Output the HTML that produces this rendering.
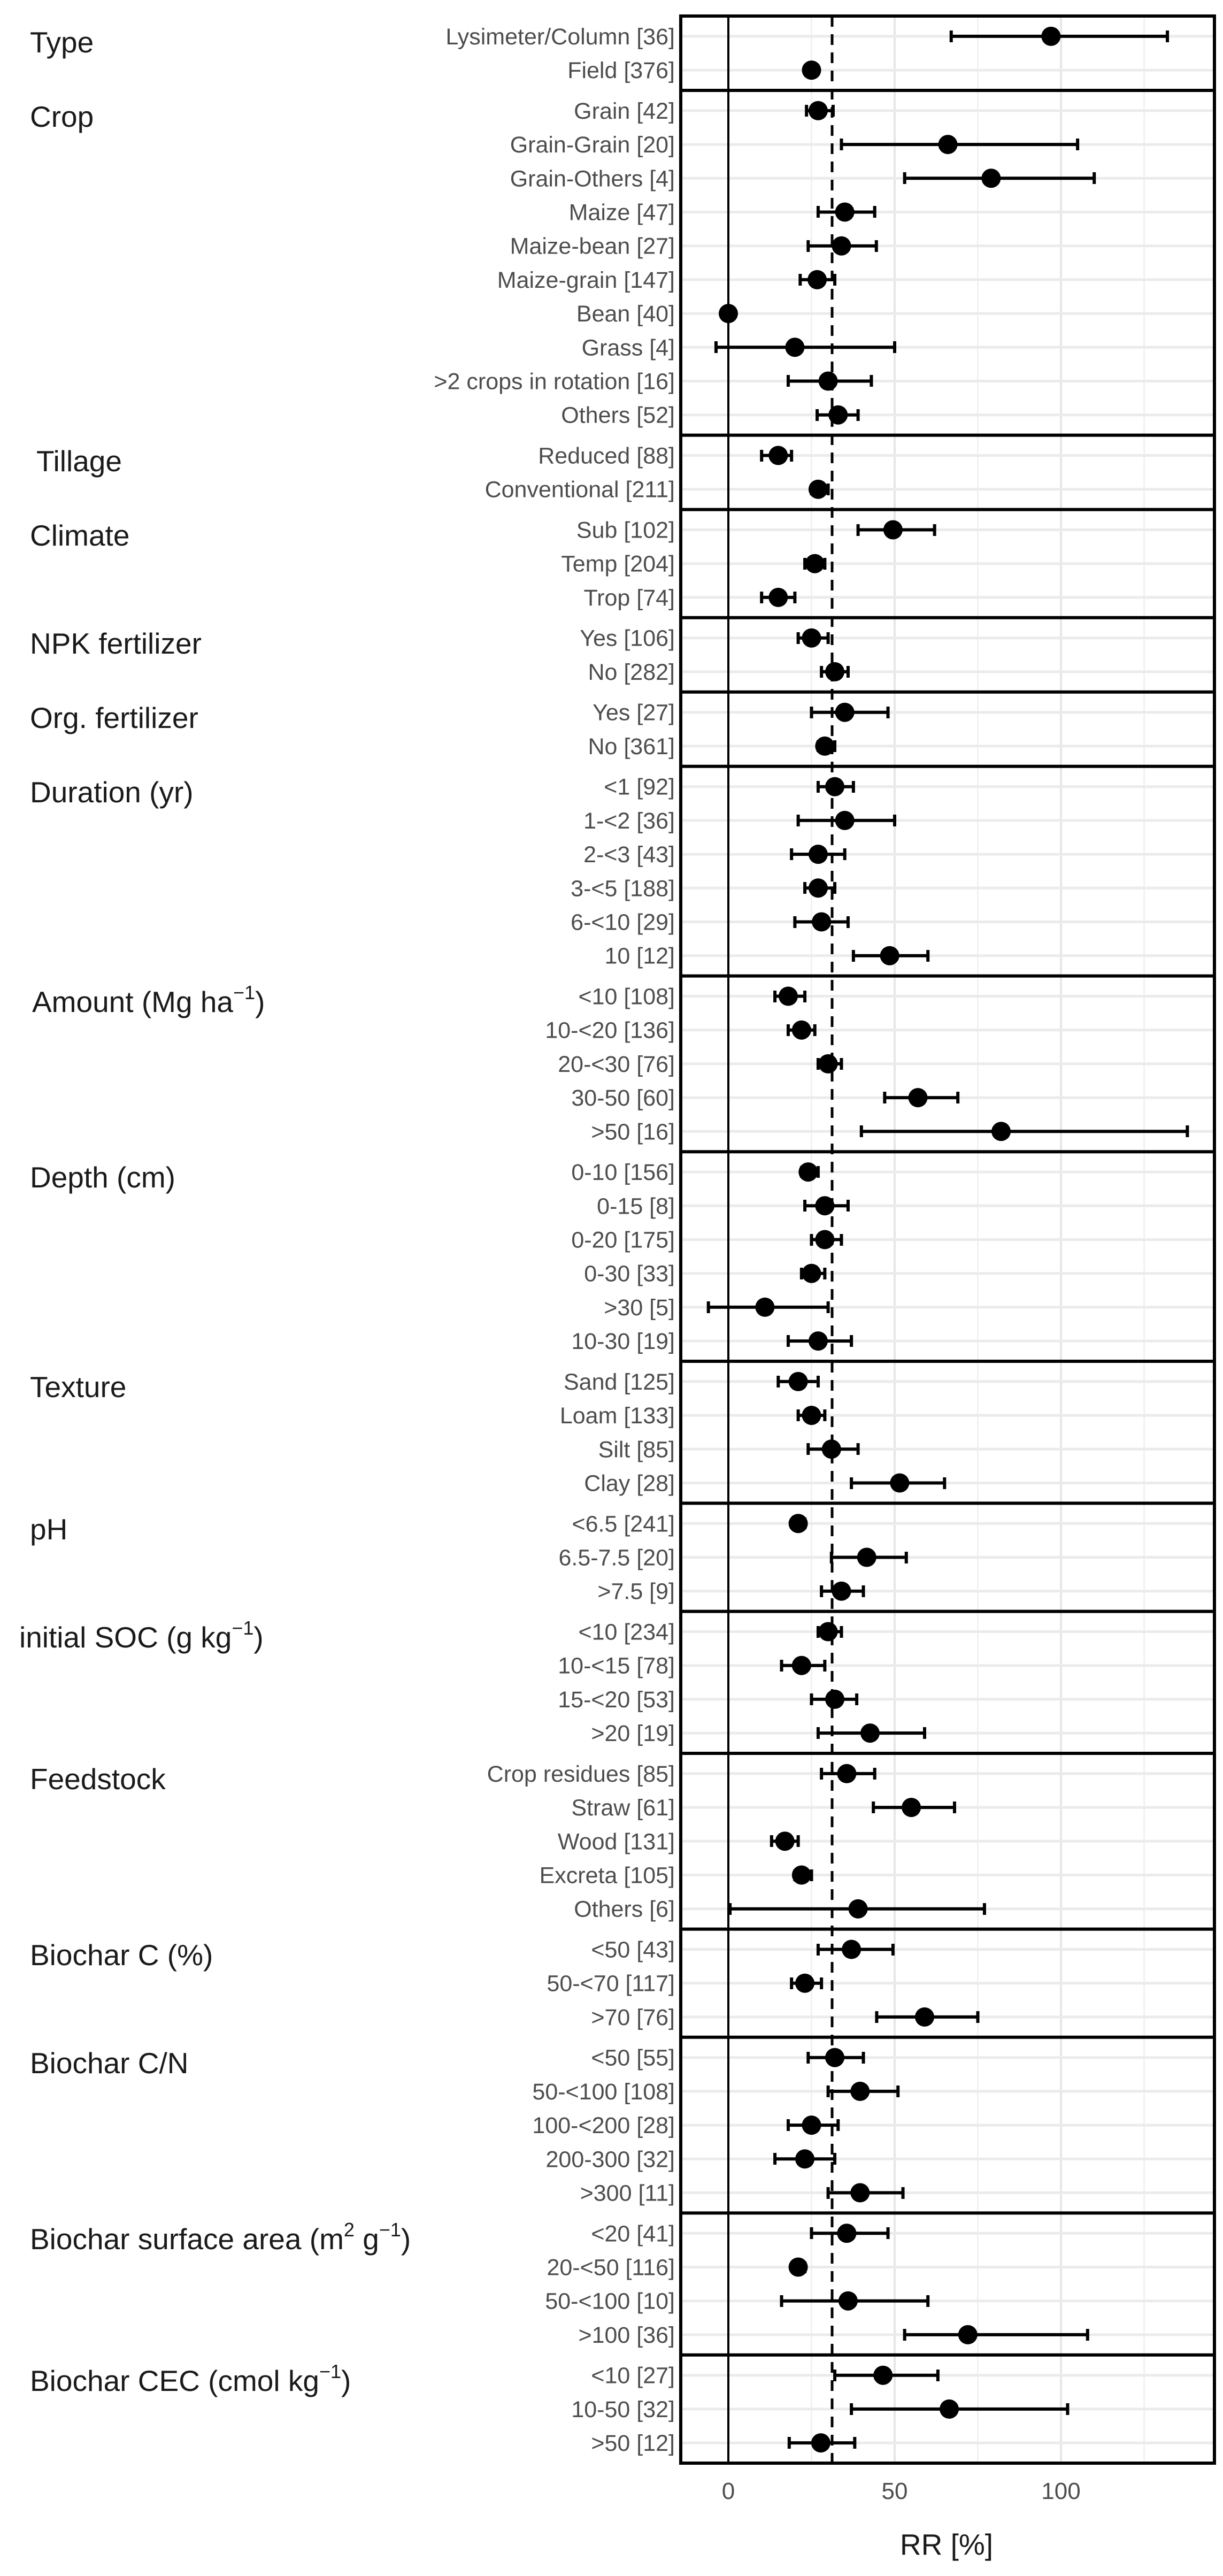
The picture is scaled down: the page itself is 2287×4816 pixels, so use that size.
<!DOCTYPE html>
<html><head><meta charset="utf-8"><style>
html,body{margin:0;padding:0;background:#fff}
svg{display:block}
.rl{font-family:"Liberation Sans",sans-serif;font-size:43px;fill:#4d4d4d;text-anchor:end}
.fl{font-family:"Liberation Sans",sans-serif;font-size:55px;fill:#1a1a1a}
.d path{fill:none;stroke:#000;stroke-width:6;vector-effect:non-scaling-stroke}
.d ellipse{fill:#000}
</style></head><body>
<svg width="2287" height="4816" viewBox="0 0 2287 4816" xmlns="http://www.w3.org/2000/svg">
<rect width="2287" height="4816" fill="#fff"/>
<!-- vertical grid -->
<g stroke="#ebebeb" stroke-width="2">
<line x1="1517.5" y1="30" x2="1517.5" y2="4605"/><line x1="1828.5" y1="30" x2="1828.5" y2="4605"/><line x1="2139.5" y1="30" x2="2139.5" y2="4605"/>
</g>
<g stroke="#e6e6e6" stroke-width="4">
<line x1="1673" y1="30" x2="1673" y2="4605"/><line x1="1984" y1="30" x2="1984" y2="4605"/>
</g>
<!-- horizontal grid -->
<g stroke="#ebebeb" stroke-width="5">
<line x1="1273" x2="2271" y1="67.9" y2="67.9"/><line x1="1273" x2="2271" y1="131.1" y2="131.1"/>
<line x1="1273" x2="2271" y1="206.9" y2="206.9"/><line x1="1273" x2="2271" y1="270.1" y2="270.1"/><line x1="1273" x2="2271" y1="333.3" y2="333.3"/><line x1="1273" x2="2271" y1="396.5" y2="396.5"/><line x1="1273" x2="2271" y1="459.7" y2="459.7"/><line x1="1273" x2="2271" y1="522.9" y2="522.9"/><line x1="1273" x2="2271" y1="586.1" y2="586.1"/><line x1="1273" x2="2271" y1="649.3" y2="649.3"/><line x1="1273" x2="2271" y1="712.5" y2="712.5"/><line x1="1273" x2="2271" y1="775.7" y2="775.7"/>
<line x1="1273" x2="2271" y1="851.5" y2="851.5"/><line x1="1273" x2="2271" y1="914.7" y2="914.7"/>
<line x1="1273" x2="2271" y1="990.5" y2="990.5"/><line x1="1273" x2="2271" y1="1053.7" y2="1053.7"/><line x1="1273" x2="2271" y1="1116.9" y2="1116.9"/>
<line x1="1273" x2="2271" y1="1192.7" y2="1192.7"/><line x1="1273" x2="2271" y1="1255.9" y2="1255.9"/>
<line x1="1273" x2="2271" y1="1331.7" y2="1331.7"/><line x1="1273" x2="2271" y1="1394.9" y2="1394.9"/>
<line x1="1273" x2="2271" y1="1470.7" y2="1470.7"/><line x1="1273" x2="2271" y1="1533.9" y2="1533.9"/><line x1="1273" x2="2271" y1="1597.1" y2="1597.1"/><line x1="1273" x2="2271" y1="1660.3" y2="1660.3"/><line x1="1273" x2="2271" y1="1723.5" y2="1723.5"/><line x1="1273" x2="2271" y1="1786.7" y2="1786.7"/>
<line x1="1273" x2="2271" y1="1862.5" y2="1862.5"/><line x1="1273" x2="2271" y1="1925.7" y2="1925.7"/><line x1="1273" x2="2271" y1="1988.9" y2="1988.9"/><line x1="1273" x2="2271" y1="2052.1" y2="2052.1"/><line x1="1273" x2="2271" y1="2115.3" y2="2115.3"/>
<line x1="1273" x2="2271" y1="2191.1" y2="2191.1"/><line x1="1273" x2="2271" y1="2254.3" y2="2254.3"/><line x1="1273" x2="2271" y1="2317.5" y2="2317.5"/><line x1="1273" x2="2271" y1="2380.7" y2="2380.7"/><line x1="1273" x2="2271" y1="2443.9" y2="2443.9"/><line x1="1273" x2="2271" y1="2507.1" y2="2507.1"/>
<line x1="1273" x2="2271" y1="2582.9" y2="2582.9"/><line x1="1273" x2="2271" y1="2646.1" y2="2646.1"/><line x1="1273" x2="2271" y1="2709.3" y2="2709.3"/><line x1="1273" x2="2271" y1="2772.5" y2="2772.5"/>
<line x1="1273" x2="2271" y1="2848.3" y2="2848.3"/><line x1="1273" x2="2271" y1="2911.5" y2="2911.5"/><line x1="1273" x2="2271" y1="2974.7" y2="2974.7"/>
<line x1="1273" x2="2271" y1="3050.5" y2="3050.5"/><line x1="1273" x2="2271" y1="3113.7" y2="3113.7"/><line x1="1273" x2="2271" y1="3176.9" y2="3176.9"/><line x1="1273" x2="2271" y1="3240.1" y2="3240.1"/>
<line x1="1273" x2="2271" y1="3315.9" y2="3315.9"/><line x1="1273" x2="2271" y1="3379.1" y2="3379.1"/><line x1="1273" x2="2271" y1="3442.3" y2="3442.3"/><line x1="1273" x2="2271" y1="3505.5" y2="3505.5"/><line x1="1273" x2="2271" y1="3568.7" y2="3568.7"/>
<line x1="1273" x2="2271" y1="3644.5" y2="3644.5"/><line x1="1273" x2="2271" y1="3707.7" y2="3707.7"/><line x1="1273" x2="2271" y1="3770.9" y2="3770.9"/>
<line x1="1273" x2="2271" y1="3846.7" y2="3846.7"/><line x1="1273" x2="2271" y1="3909.9" y2="3909.9"/><line x1="1273" x2="2271" y1="3973.1" y2="3973.1"/><line x1="1273" x2="2271" y1="4036.3" y2="4036.3"/><line x1="1273" x2="2271" y1="4099.5" y2="4099.5"/>
<line x1="1273" x2="2271" y1="4175.3" y2="4175.3"/><line x1="1273" x2="2271" y1="4238.5" y2="4238.5"/><line x1="1273" x2="2271" y1="4301.7" y2="4301.7"/><line x1="1273" x2="2271" y1="4364.9" y2="4364.9"/>
<line x1="1273" x2="2271" y1="4440.7" y2="4440.7"/><line x1="1273" x2="2271" y1="4503.9" y2="4503.9"/><line x1="1273" x2="2271" y1="4567.1" y2="4567.1"/>
</g>
<!-- reference lines -->
<line x1="1362" y1="30" x2="1362" y2="4605" stroke="#000" stroke-width="4"/>
<line x1="1556" y1="30" x2="1556" y2="4605" stroke="#000" stroke-width="5" stroke-dasharray="20,14"/>
<!-- data -->
<g class="d" transform="translate(1362,0) scale(6.22,1)">
<path d="M67 67.9H132M67 57V79M132 57V79"/><ellipse cx="97" cy="67.9" rx="2.894" ry="18"/>
<path d="M23 131.1H27M23 121V141M27 121V141"/><ellipse cx="25" cy="131.1" rx="2.894" ry="18"/>
<path d="M23.5 206.9H31.5M23.5 196V218M31.5 196V218"/><ellipse cx="27" cy="206.9" rx="2.894" ry="18"/>
<path d="M34 270.1H105M34 259V281M105 259V281"/><ellipse cx="66" cy="270.1" rx="2.894" ry="18"/>
<path d="M53 333.3H110M53 322V344M110 322V344"/><ellipse cx="79" cy="333.3" rx="2.894" ry="18"/>
<path d="M27 396.5H44M27 385V407M44 385V407"/><ellipse cx="35" cy="396.5" rx="2.894" ry="18"/>
<path d="M24 459.7H44.5M24 449V471M44.5 449V471"/><ellipse cx="34" cy="459.7" rx="2.894" ry="18"/>
<path d="M21.6 522.9H32M21.6 512V534M32 512V534"/><ellipse cx="26.7" cy="522.9" rx="2.894" ry="18"/>
<ellipse cx="0" cy="586.1" rx="2.894" ry="18"/>
<path d="M-3.7 649.3H50M-3.7 638V660M50 638V660"/><ellipse cx="20" cy="649.3" rx="2.894" ry="18"/>
<path d="M18 712.5H43M18 701V723M43 701V723"/><ellipse cx="30" cy="712.5" rx="2.894" ry="18"/>
<path d="M26.7 775.7H39M26.7 765V787M39 765V787"/><ellipse cx="33" cy="775.7" rx="2.894" ry="18"/>
<path d="M10 851.5H19M10 841V863M19 841V863"/><ellipse cx="15" cy="851.5" rx="2.894" ry="18"/>
<path d="M25 914.7H30M25 904V926M30 904V926"/><ellipse cx="27" cy="914.7" rx="2.894" ry="18"/>
<path d="M39 990.5H62M39 980V1002M62 980V1002"/><ellipse cx="49.5" cy="990.5" rx="2.894" ry="18"/>
<path d="M23 1053.7H29M23 1043V1065M29 1043V1065"/><ellipse cx="26" cy="1053.7" rx="2.894" ry="18"/>
<path d="M10 1116.9H20M10 1106V1128M20 1106V1128"/><ellipse cx="15" cy="1116.9" rx="2.894" ry="18"/>
<path d="M21 1192.7H30M21 1182V1204M30 1182V1204"/><ellipse cx="25" cy="1192.7" rx="2.894" ry="18"/>
<path d="M28 1255.9H36M28 1245V1267M36 1245V1267"/><ellipse cx="32" cy="1255.9" rx="2.894" ry="18"/>
<path d="M25 1331.7H48M25 1321V1343M48 1321V1343"/><ellipse cx="35" cy="1331.7" rx="2.894" ry="18"/>
<path d="M27 1394.9H32M27 1384V1406M32 1384V1406"/><ellipse cx="29" cy="1394.9" rx="2.894" ry="18"/>
<path d="M27 1470.7H37.6M27 1460V1482M37.6 1460V1482"/><ellipse cx="32" cy="1470.7" rx="2.894" ry="18"/>
<path d="M21 1533.9H50M21 1523V1545M50 1523V1545"/><ellipse cx="35" cy="1533.9" rx="2.894" ry="18"/>
<path d="M19 1597.1H35M19 1586V1608M35 1586V1608"/><ellipse cx="27" cy="1597.1" rx="2.894" ry="18"/>
<path d="M23 1660.3H32M23 1649V1671M32 1649V1671"/><ellipse cx="27" cy="1660.3" rx="2.894" ry="18"/>
<path d="M20 1723.5H36M20 1713V1735M36 1713V1735"/><ellipse cx="28" cy="1723.5" rx="2.894" ry="18"/>
<path d="M37.6 1786.7H60M37.6 1776V1798M60 1776V1798"/><ellipse cx="48.5" cy="1786.7" rx="2.894" ry="18"/>
<path d="M14 1862.5H23M14 1852V1874M23 1852V1874"/><ellipse cx="18" cy="1862.5" rx="2.894" ry="18"/>
<path d="M18 1925.7H26M18 1915V1937M26 1915V1937"/><ellipse cx="22" cy="1925.7" rx="2.894" ry="18"/>
<path d="M27 1988.9H34M27 1978V2000M34 1978V2000"/><ellipse cx="30" cy="1988.9" rx="2.894" ry="18"/>
<path d="M47 2052.1H69M47 2041V2063M69 2041V2063"/><ellipse cx="57" cy="2052.1" rx="2.894" ry="18"/>
<path d="M40 2115.3H138M40 2104V2126M138 2104V2126"/><ellipse cx="82" cy="2115.3" rx="2.894" ry="18"/>
<path d="M22 2191.1H27M22 2180V2202M27 2180V2202"/><ellipse cx="24" cy="2191.1" rx="2.894" ry="18"/>
<path d="M23 2254.3H36M23 2243V2265M36 2243V2265"/><ellipse cx="29" cy="2254.3" rx="2.894" ry="18"/>
<path d="M25 2317.5H34M25 2307V2329M34 2307V2329"/><ellipse cx="29" cy="2317.5" rx="2.894" ry="18"/>
<path d="M22 2380.7H29M22 2370V2392M29 2370V2392"/><ellipse cx="25" cy="2380.7" rx="2.894" ry="18"/>
<path d="M-6 2443.9H30M-6 2433V2455M30 2433V2455"/><ellipse cx="11" cy="2443.9" rx="2.894" ry="18"/>
<path d="M18 2507.1H37M18 2496V2518M37 2496V2518"/><ellipse cx="27" cy="2507.1" rx="2.894" ry="18"/>
<path d="M15 2582.9H27M15 2572V2594M27 2572V2594"/><ellipse cx="21" cy="2582.9" rx="2.894" ry="18"/>
<path d="M21 2646.1H29M21 2635V2657M29 2635V2657"/><ellipse cx="25" cy="2646.1" rx="2.894" ry="18"/>
<path d="M24 2709.3H39M24 2698V2720M39 2698V2720"/><ellipse cx="31" cy="2709.3" rx="2.894" ry="18"/>
<path d="M37 2772.5H65M37 2762V2784M65 2762V2784"/><ellipse cx="51.5" cy="2772.5" rx="2.894" ry="18"/>
<path d="M20 2848.3H23M20 2837V2859M23 2837V2859"/><ellipse cx="21" cy="2848.3" rx="2.894" ry="18"/>
<path d="M31 2911.5H53.5M31 2901V2923M53.5 2901V2923"/><ellipse cx="41.6" cy="2911.5" rx="2.894" ry="18"/>
<path d="M28 2974.7H40.6M28 2964V2986M40.6 2964V2986"/><ellipse cx="34" cy="2974.7" rx="2.894" ry="18"/>
<path d="M27 3050.5H34M27 3040V3062M34 3040V3062"/><ellipse cx="30" cy="3050.5" rx="2.894" ry="18"/>
<path d="M16 3113.7H29M16 3103V3125M29 3103V3125"/><ellipse cx="22" cy="3113.7" rx="2.894" ry="18"/>
<path d="M25 3176.9H38.6M25 3166V3188M38.6 3166V3188"/><ellipse cx="32" cy="3176.9" rx="2.894" ry="18"/>
<path d="M27 3240.1H59M27 3229V3251M59 3229V3251"/><ellipse cx="42.6" cy="3240.1" rx="2.894" ry="18"/>
<path d="M28 3315.9H44M28 3305V3327M44 3305V3327"/><ellipse cx="35.6" cy="3315.9" rx="2.894" ry="18"/>
<path d="M43.6 3379.1H68M43.6 3368V3390M68 3368V3390"/><ellipse cx="55" cy="3379.1" rx="2.894" ry="18"/>
<path d="M13 3442.3H21M13 3431V3453M21 3431V3453"/><ellipse cx="17" cy="3442.3" rx="2.894" ry="18"/>
<path d="M20 3505.5H25M20 3495V3517M25 3495V3517"/><ellipse cx="22" cy="3505.5" rx="2.894" ry="18"/>
<path d="M0.5 3568.7H77M0.5 3558V3580M77 3558V3580"/><ellipse cx="39" cy="3568.7" rx="2.894" ry="18"/>
<path d="M27 3644.5H49.5M27 3634V3656M49.5 3634V3656"/><ellipse cx="37" cy="3644.5" rx="2.894" ry="18"/>
<path d="M19 3707.7H28M19 3697V3719M28 3697V3719"/><ellipse cx="23" cy="3707.7" rx="2.894" ry="18"/>
<path d="M44.6 3770.9H75M44.6 3760V3782M75 3760V3782"/><ellipse cx="59" cy="3770.9" rx="2.894" ry="18"/>
<path d="M24 3846.7H40.6M24 3836V3858M40.6 3836V3858"/><ellipse cx="32" cy="3846.7" rx="2.894" ry="18"/>
<path d="M30 3909.9H51M30 3899V3921M51 3899V3921"/><ellipse cx="39.6" cy="3909.9" rx="2.894" ry="18"/>
<path d="M18 3973.1H33M18 3962V3984M33 3962V3984"/><ellipse cx="25" cy="3973.1" rx="2.894" ry="18"/>
<path d="M14 4036.3H32M14 4025V4047M32 4025V4047"/><ellipse cx="23" cy="4036.3" rx="2.894" ry="18"/>
<path d="M30 4099.5H52.5M30 4089V4111M52.5 4089V4111"/><ellipse cx="39.6" cy="4099.5" rx="2.894" ry="18"/>
<path d="M25 4175.3H48M25 4164V4186M48 4164V4186"/><ellipse cx="35.6" cy="4175.3" rx="2.894" ry="18"/>
<path d="M20 4238.5H23M20 4228V4250M23 4228V4250"/><ellipse cx="21" cy="4238.5" rx="2.894" ry="18"/>
<path d="M16 4301.7H60M16 4291V4313M60 4291V4313"/><ellipse cx="36" cy="4301.7" rx="2.894" ry="18"/>
<path d="M53 4364.9H108M53 4354V4376M108 4354V4376"/><ellipse cx="72" cy="4364.9" rx="2.894" ry="18"/>
<path d="M32 4440.7H63M32 4430V4452M63 4430V4452"/><ellipse cx="46.5" cy="4440.7" rx="2.894" ry="18"/>
<path d="M37 4503.9H102M37 4493V4515M102 4493V4515"/><ellipse cx="66.4" cy="4503.9" rx="2.894" ry="18"/>
<path d="M18.3 4567.1H38M18.3 4556V4578M38 4556V4578"/><ellipse cx="27.8" cy="4567.1" rx="2.894" ry="18"/>
</g>
<!-- panel borders -->
<g fill="none" stroke="#000" stroke-width="6">
<rect x="1273" y="30" width="998" height="4575"/>
<path d="M1273 169H2271M1273 813.6H2271M1273 952.6H2271M1273 1154.8H2271M1273 1293.8H2271M1273 1432.8H2271M1273 1824.6H2271M1273 2153.2H2271M1273 2545H2271M1273 2810.4H2271M1273 3012.6H2271M1273 3278H2271M1273 3606.6H2271M1273 3808.8H2271M1273 4137.4H2271M1273 4402.8H2271"/>
</g>
<!-- row labels -->
<g class="rl">
<text x="1262" y="82.9">Lysimeter/Column [36]</text><text x="1262" y="146.1">Field [376]</text>
<text x="1262" y="221.9">Grain [42]</text><text x="1262" y="285.1">Grain-Grain [20]</text><text x="1262" y="348.3">Grain-Others [4]</text><text x="1262" y="411.5">Maize [47]</text><text x="1262" y="474.7">Maize-bean [27]</text><text x="1262" y="537.9">Maize-grain [147]</text><text x="1262" y="601.1">Bean [40]</text><text x="1262" y="664.3">Grass [4]</text><text x="1262" y="727.5">&gt;2 crops in rotation [16]</text><text x="1262" y="790.7">Others [52]</text>
<text x="1262" y="866.5">Reduced [88]</text><text x="1262" y="929.7">Conventional [211]</text>
<text x="1262" y="1005.5">Sub [102]</text><text x="1262" y="1068.7">Temp [204]</text><text x="1262" y="1131.9">Trop [74]</text>
<text x="1262" y="1207.7">Yes [106]</text><text x="1262" y="1270.9">No [282]</text>
<text x="1262" y="1346.7">Yes [27]</text><text x="1262" y="1409.9">No [361]</text>
<text x="1262" y="1485.7">&lt;1 [92]</text><text x="1262" y="1548.9">1-&lt;2 [36]</text><text x="1262" y="1612.1">2-&lt;3 [43]</text><text x="1262" y="1675.3">3-&lt;5 [188]</text><text x="1262" y="1738.5">6-&lt;10 [29]</text><text x="1262" y="1801.7">10 [12]</text>
<text x="1262" y="1877.5">&lt;10 [108]</text><text x="1262" y="1940.7">10-&lt;20 [136]</text><text x="1262" y="2003.9">20-&lt;30 [76]</text><text x="1262" y="2067.1">30-50 [60]</text><text x="1262" y="2130.3">&gt;50 [16]</text>
<text x="1262" y="2206.1">0-10 [156]</text><text x="1262" y="2269.3">0-15 [8]</text><text x="1262" y="2332.5">0-20 [175]</text><text x="1262" y="2395.7">0-30 [33]</text><text x="1262" y="2458.9">&gt;30 [5]</text><text x="1262" y="2522.1">10-30 [19]</text>
<text x="1262" y="2597.9">Sand [125]</text><text x="1262" y="2661.1">Loam [133]</text><text x="1262" y="2724.3">Silt [85]</text><text x="1262" y="2787.5">Clay [28]</text>
<text x="1262" y="2863.3">&lt;6.5 [241]</text><text x="1262" y="2926.5">6.5-7.5 [20]</text><text x="1262" y="2989.7">&gt;7.5 [9]</text>
<text x="1262" y="3065.5">&lt;10 [234]</text><text x="1262" y="3128.7">10-&lt;15 [78]</text><text x="1262" y="3191.9">15-&lt;20 [53]</text><text x="1262" y="3255.1">&gt;20 [19]</text>
<text x="1262" y="3330.9">Crop residues [85]</text><text x="1262" y="3394.1">Straw [61]</text><text x="1262" y="3457.3">Wood [131]</text><text x="1262" y="3520.5">Excreta [105]</text><text x="1262" y="3583.7">Others [6]</text>
<text x="1262" y="3659.5">&lt;50 [43]</text><text x="1262" y="3722.7">50-&lt;70 [117]</text><text x="1262" y="3785.9">&gt;70 [76]</text>
<text x="1262" y="3861.7">&lt;50 [55]</text><text x="1262" y="3924.9">50-&lt;100 [108]</text><text x="1262" y="3988.1">100-&lt;200 [28]</text><text x="1262" y="4051.3">200-300 [32]</text><text x="1262" y="4114.5">&gt;300 [11]</text>
<text x="1262" y="4190.3">&lt;20 [41]</text><text x="1262" y="4253.5">20-&lt;50 [116]</text><text x="1262" y="4316.7">50-&lt;100 [10]</text><text x="1262" y="4379.9">&gt;100 [36]</text>
<text x="1262" y="4455.7">&lt;10 [27]</text><text x="1262" y="4518.9">10-50 [32]</text><text x="1262" y="4582.1">&gt;50 [12]</text>
</g>
<!-- facet labels -->
<g class="fl">
<text x="56" y="98">Type</text>
<text x="56" y="237">Crop</text>
<text x="68" y="881">Tillage</text>
<text x="56" y="1020">Climate</text>
<text x="56" y="1222">NPK fertilizer</text>
<text x="56" y="1361">Org. fertilizer</text>
<text x="56" y="1500">Duration (yr)</text>
<text x="60" y="1892">Amount (Mg ha<tspan dy="-24" font-size="36">−1</tspan><tspan dy="24">)</tspan></text>
<text x="56" y="2220">Depth (cm)</text>
<text x="56" y="2612">Texture</text>
<text x="56" y="2878">pH</text>
<text x="36" y="3080">initial SOC (g kg<tspan dy="-24" font-size="36">−1</tspan><tspan dy="24">)</tspan></text>
<text x="56" y="3345">Feedstock</text>
<text x="56" y="3674">Biochar C (%)</text>
<text x="56" y="3876">Biochar C/N</text>
<text x="56" y="4205">Biochar surface area (m<tspan dy="-24" font-size="36">2</tspan><tspan dy="24"> g</tspan><tspan dy="-24" font-size="36">−1</tspan><tspan dy="24">)</tspan></text>
<text x="56" y="4470">Biochar CEC (cmol kg<tspan dy="-24" font-size="36">−1</tspan><tspan dy="24">)</tspan></text>
</g>
<!-- x axis -->
<g font-family="Liberation Sans, sans-serif" font-size="44" fill="#4d4d4d" text-anchor="middle">
<text x="1362" y="4672">0</text><text x="1673" y="4672">50</text><text x="1984" y="4672">100</text>
</g>
<text x="1770" y="4776" font-family="Liberation Sans, sans-serif" font-size="55" fill="#1a1a1a" text-anchor="middle">RR [%]</text>
</svg>
</body></html>
